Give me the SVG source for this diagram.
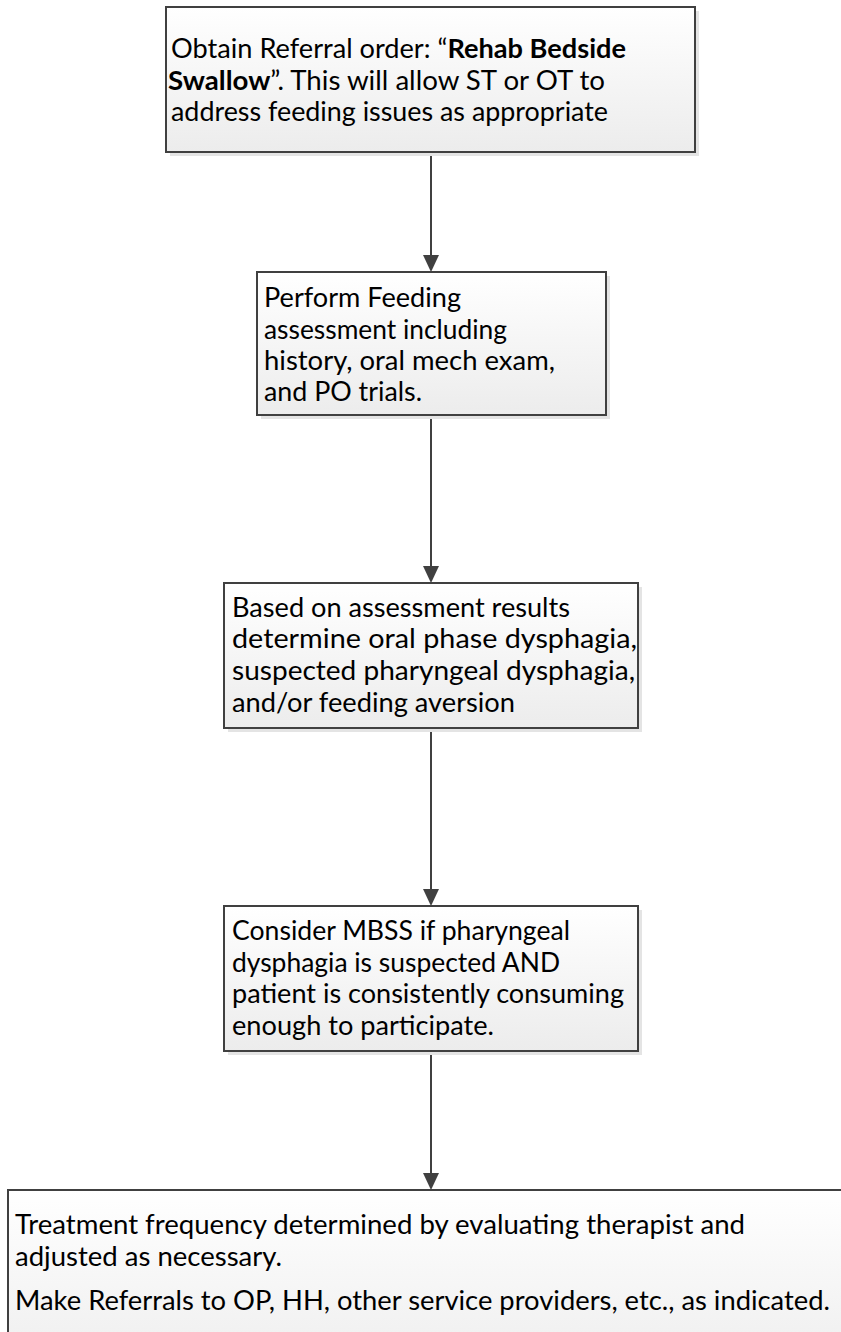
<svg xmlns="http://www.w3.org/2000/svg" width="841" height="1332" viewBox="0 0 841 1332">
<style>
.box{fill:url(#g);stroke:#404040;stroke-width:2}
.sh{fill:#e4e4e4}
.t{font-family:Lato,"Liberation Sans",sans-serif;font-size:26px;fill:#000}
.b{font-weight:bold}
.c{stroke:#404040;stroke-width:2;fill:none}
.ah{fill:#404040}
</style>
<defs>
<linearGradient id="g" x1="0" y1="0" x2="0" y2="1">
<stop offset="0" stop-color="#ffffff"/>
<stop offset="1" stop-color="#ececec"/>
</linearGradient>
</defs>
<rect width="841" height="1332" fill="#fff"/>
<g id="connectors">
<line class="c" x1="431" y1="152" x2="431" y2="256"/>
<polygon class="ah" points="423,255 439,255 431,272"/>
<line class="c" x1="431" y1="415" x2="431" y2="567"/>
<polygon class="ah" points="423,566 439,566 431,583"/>
<line class="c" x1="431" y1="728" x2="431" y2="890"/>
<polygon class="ah" points="423,889 439,889 431,906"/>
<line class="c" x1="431" y1="1051" x2="431" y2="1174"/>
<polygon class="ah" points="423,1173 439,1173 431,1190"/>
</g>
<g id="n1">
<rect class="sh" x="170" y="11" width="529" height="145"/>
<rect class="box" x="166" y="7" width="529" height="145"/>
<text class="t" x="171" y="58" textLength="455" lengthAdjust="spacingAndGlyphs">Obtain Referral order: “<tspan class="b">Rehab Bedside</tspan></text>
<text class="t" x="168" y="90" textLength="437" lengthAdjust="spacingAndGlyphs"><tspan class="b">Swallow</tspan>”. This will allow ST or OT to</text>
<text class="t" x="171" y="121" textLength="437" lengthAdjust="spacingAndGlyphs">address feeding issues as appropriate</text>
</g>
<g id="n2">
<rect class="sh" x="261" y="276" width="349" height="143"/>
<rect class="box" x="257" y="272" width="349" height="143"/>
<text class="t" x="264" y="307" textLength="197" lengthAdjust="spacingAndGlyphs">Perform Feeding</text>
<text class="t" x="264" y="339" textLength="243" lengthAdjust="spacingAndGlyphs">assessment including</text>
<text class="t" x="264" y="370" textLength="291" lengthAdjust="spacingAndGlyphs">history, oral mech exam,</text>
<text class="t" x="264" y="401" textLength="158" lengthAdjust="spacingAndGlyphs">and PO trials.</text>
</g>
<g id="n3">
<rect class="sh" x="228" y="587" width="414" height="145"/>
<rect class="box" x="224" y="583" width="414" height="145"/>
<text class="t" x="232" y="617" textLength="338" lengthAdjust="spacingAndGlyphs">Based on assessment results</text>
<text class="t" x="232" y="648" textLength="405" lengthAdjust="spacingAndGlyphs">determine oral phase dysphagia,</text>
<text class="t" x="232" y="680" textLength="403" lengthAdjust="spacingAndGlyphs">suspected pharyngeal dysphagia,</text>
<text class="t" x="232" y="712" textLength="283" lengthAdjust="spacingAndGlyphs">and/or feeding aversion</text>
</g>
<g id="n4">
<rect class="sh" x="228" y="910" width="414" height="145"/>
<rect class="box" x="224" y="906" width="414" height="145"/>
<text class="t" x="232" y="940" textLength="338" lengthAdjust="spacingAndGlyphs">Consider MBSS if pharyngeal</text>
<text class="t" x="232" y="972" textLength="328" lengthAdjust="spacingAndGlyphs">dysphagia is suspected AND</text>
<text class="t" x="232" y="1003" textLength="392" lengthAdjust="spacingAndGlyphs">patient is consistently consuming</text>
<text class="t" x="232" y="1035" textLength="262" lengthAdjust="spacingAndGlyphs">enough to participate.</text>
</g>
<g id="n5">
<rect class="box" x="8" y="1190" width="900" height="200"/>
<text class="t" x="15" y="1234" textLength="730" lengthAdjust="spacingAndGlyphs">Treatment frequency determined by evaluating therapist and</text>
<text class="t" x="15" y="1266" textLength="267" lengthAdjust="spacingAndGlyphs">adjusted as necessary.</text>
<text class="t" x="15" y="1310" textLength="815" lengthAdjust="spacingAndGlyphs">Make Referrals to OP, HH, other service providers, etc., as indicated.</text>
</g>
</svg>
